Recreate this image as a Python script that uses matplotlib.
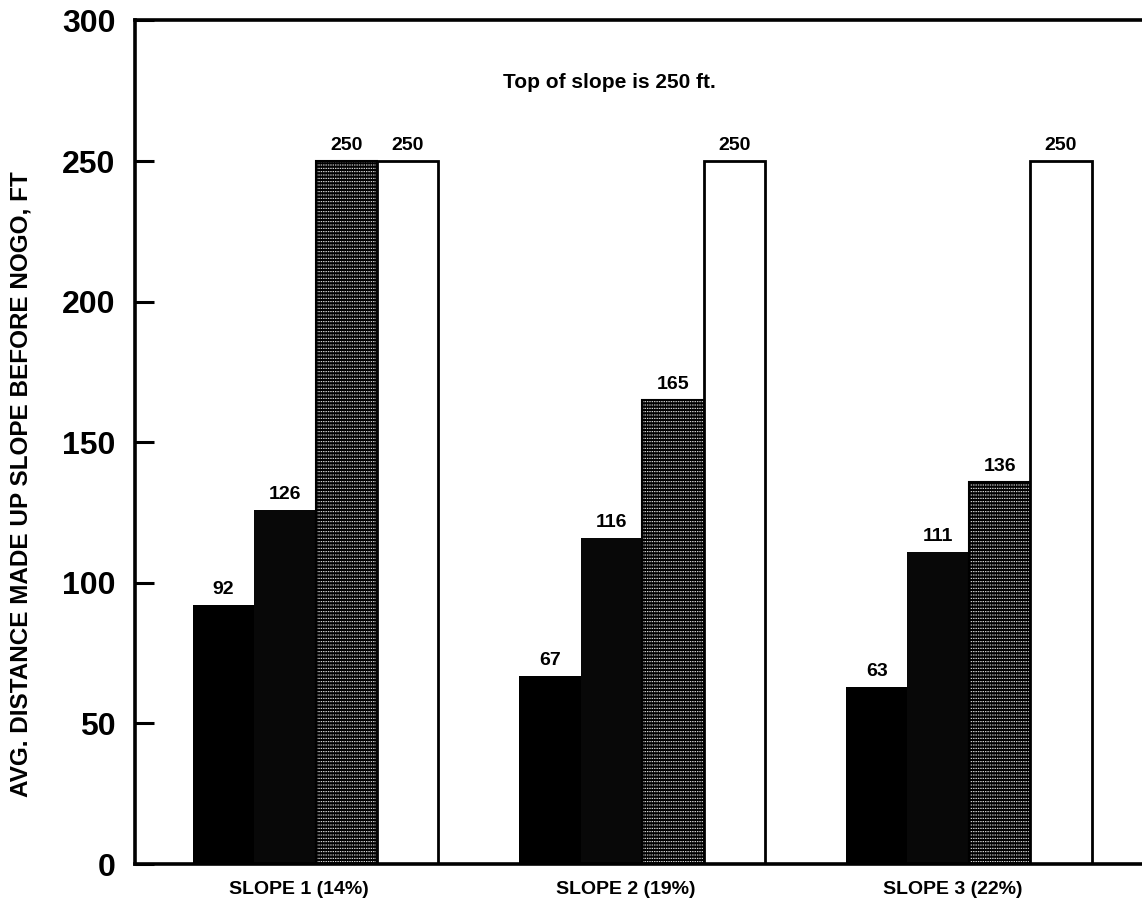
import numpy as np
import matplotlib
matplotlib.use("Agg")
import matplotlib.pyplot as plt

plt.rcParams['font.family'] = ['Liberation Sans', 'DejaVu Sans']
plt.rcParams['font.weight'] = 'bold'
plt.rcParams['hatch.linewidth'] = 0.7

groups = ["SLOPE 1 (14%)", "SLOPE 2 (19%)", "SLOPE 3 (22%)"]
s1 = [92, 67, 63]
s2 = [126, 116, 111]
s3 = [250, 165, 136]
s4 = [250, 250, 250]

fig = plt.figure(figsize=(11.42, 9.09), dpi=100)
ax = fig.add_axes([0.118, 0.0495, 0.882, 0.928])

x = np.arange(len(groups))
w = 0.188

# solid black
b1 = ax.bar(x - 1.5*w, s1, w, color='black', linewidth=0)
# black with faint texture
b2 = ax.bar(x - 0.5*w, s2, w, color='#080808', linewidth=0)
# dark screened bars
b3 = ax.bar(x + 0.5*w, s3, w, color='black', edgecolor='white',
            hatch='-----', linewidth=0)
ax.bar(x + 0.5*w, s3, w, color='none', edgecolor='black',
       hatch='|||||||', linewidth=1.5)
# open bars
b4 = ax.bar(x + 1.5*w, s4, w, color='white', edgecolor='black', linewidth=2)

for bars, vals in [(b1, s1), (b2, s2), (b3, s3), (b4, s4)]:
    for r, v in zip(bars, vals):
        ax.text(r.get_x() + r.get_width()/2, v + 2.5, str(v), ha='center',
                va='bottom', fontsize=14, fontweight='bold')

ax.text(0.9, 278, "Top of slope is 250 ft.", ha='center', va='center',
        fontsize=15, fontweight='bold')

ax.set_xlim(-0.554, 2.53)
ax.set_ylim(0, 300)
ax.set_yticks([0, 50, 100, 150, 200, 250, 300])
ax.set_xticks(x - 0.05)
ax.set_xticklabels(groups, fontsize=14, fontweight='bold')
ax.tick_params(axis='y', direction='in', length=14, width=2.2,
               labelsize=23, pad=14)
ax.tick_params(axis='x', length=0, pad=12)
for lab in ax.get_yticklabels():
    lab.set_fontweight('bold')
ax.set_ylabel("AVG. DISTANCE MADE UP SLOPE BEFORE NOGO, FT", fontsize=17.5,
              fontweight='bold')
ax.yaxis.set_label_coords(-0.102, 0.45)

for sp in ['left', 'top', 'bottom']:
    ax.spines[sp].set_linewidth(2.6)
ax.spines['right'].set_visible(False)

fig.savefig("out.png", dpi=100)
